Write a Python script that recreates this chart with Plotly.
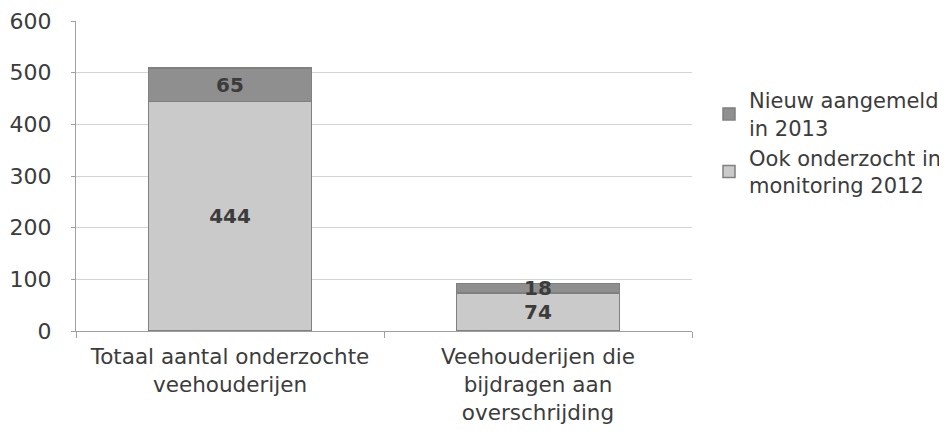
import plotly.graph_objects as go

categories = ["Totaal aantal onderzochte<br>veehouderijen",
              "Veehouderijen die<br>bijdragen aan<br>overschrijding"]
ook_onderzocht = [444, 74]
nieuw_aangemeld = [65, 18]
series_names = ["Ook onderzocht in<br>monitoring 2012", "Nieuw aangemeld<br>in 2013"]
y_ticks = [0, 100, 200, 300, 400, 500, 600]

FONT = "DejaVu Sans"
TXT = "#3c3c3c"
fig = go.Figure()
fig.add_trace(go.Bar(
    x=categories, y=ook_onderzocht, name=series_names[0],
    marker=dict(color="#cacaca", line=dict(color="#808080", width=1.5)),
    text=ook_onderzocht, textposition="inside", insidetextanchor="middle",
    texttemplate="<b>%{text}</b>",
    textfont=dict(family=FONT, size=20, color=TXT),
))
fig.add_trace(go.Bar(
    x=categories, y=nieuw_aangemeld, name=series_names[1],
    marker=dict(color="#8f8f8f", line=dict(color="#808080", width=1.5)),
    text=nieuw_aangemeld, textposition="inside", insidetextanchor="middle",
    texttemplate="<b>%{text}</b>",
    textfont=dict(family=FONT, size=20, color=TXT),
))
fig.update_layout(
    barmode="stack", bargap=0.47,
    width=939, height=424,
    margin=dict(l=68, r=255, t=13, b=101),
    paper_bgcolor="white", plot_bgcolor="white",
    font=dict(family=FONT, size=21, color=TXT),
    uniformtext=dict(minsize=10, mode="show"),
    legend=dict(xref="container", yref="container", x=1.0, y=0.83,
                xanchor="right", yanchor="top",
                traceorder="reversed", font=dict(size=21, color=TXT),
                itemwidth=30, tracegroupgap=4),
    showlegend=True,
)
fig.update_yaxes(range=[0, 600], tickvals=y_ticks, showgrid=True, gridcolor="#d4d4d4",
                 showline=True, linecolor="#a0a0a0", ticks="outside", ticklen=4,
                 tickcolor="#a0a0a0", zeroline=False, automargin=False,
                 ticklabelstandoff=15,
                 tickfont=dict(size=22, color=TXT))
fig.update_xaxes(showline=True, linecolor="#a0a0a0", ticks="outside", tickson="boundaries",
                 ticklen=6, tickcolor="#a0a0a0", automargin=False,
                 ticklabelstandoff=6,
                 tickfont=dict(size=21.5, color=TXT))
fig.write_html("out.html")
